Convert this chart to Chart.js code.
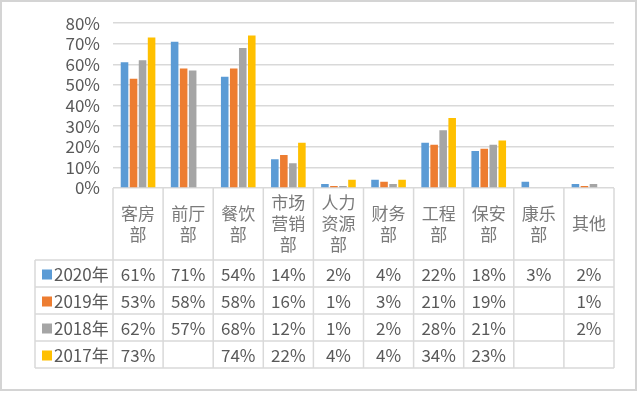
<!DOCTYPE html>
<html>
<head>
<meta charset="utf-8">
<script src="https://cdn.jsdelivr.net/npm/chart.js@4.4.1/dist/chart.umd.min.js"></script>
<style>
  html, body { margin: 0; padding: 0; background: #fff; }
  #wrap { width: 640px; height: 393px; }
</style>
</head>
<body>
<div id="wrap"><canvas id="myChart" width="640" height="393"></canvas></div>
<script>
// departments (wrapped two characters per line in the table)
var categories = ['客房部', '前厅部', '餐饮部', '市场营销部', '人力资源部', '财务部', '工程部', '保安部', '康乐部', '其他'];
var seriesNames = ['2020年', '2019年', '2018年', '2017年'];
var v2020 = [61, 71, 54, 14, 2, 4, 22, 18, 3, 2];
var v2019 = [53, 58, 58, 16, 1, 3, 21, 19, null, 1];
var v2018 = [62, 57, 68, 12, 1, 2, 28, 21, null, 2];
var v2017 = [73, null, 74, 22, 4, 4, 34, 23, null, null];
var yTicks = ['0%', '10%', '20%', '30%', '40%', '50%', '60%', '70%', '80%'];
var colors = ['#5B9BD5', '#ED7D31', '#A5A5A5', '#FFC000'];

var allValues = [v2020, v2019, v2018, v2017];
var gridColor = '#d9d9d9';
var fontCJK = '"Noto Sans CJK SC", "Noto Sans", sans-serif';

// table under the plot: header row with departments + one row per year
var dataTable = {
    id: 'dataTable',
    beforeDraw: function(chart){
        var c = chart.ctx;
        c.save();
        c.fillStyle = '#fff';
        c.fillRect(0, 0, chart.width, chart.height);
        c.strokeStyle = '#d4d4d4';
        c.lineWidth = 2;
        c.strokeRect(1, 1, 635, 389);
        c.restore();
    },
    afterDraw: function(chart){
        var c = chart.ctx;
        var xs = chart.scales.x;
        var area = chart.chartArea;
        var colW = (area.right - area.left) / categories.length;
        var headTop = area.bottom, headBottom = 260, rowH = 27;
        var tableLeft = 35;
        var tableBottom = headBottom + rowH * seriesNames.length;

        c.save();
        c.strokeStyle = gridColor;
        c.lineWidth = 1.5;
        c.beginPath();
        // vertical lines
        for(var i = 0; i <= categories.length; i++){
            var x = area.left + i * colW;
            c.moveTo(x, headTop);
            c.lineTo(x, tableBottom);
        }
        c.moveTo(tableLeft, headBottom);
        c.lineTo(tableLeft, tableBottom);
        // horizontal lines
        for(var r = 0; r <= seriesNames.length; r++){
            var y = headBottom + r * rowH;
            c.moveTo(tableLeft, y);
            c.lineTo(area.right, y);
        }
        c.stroke();

        // department names
        c.fillStyle = '#7a7a7a';
        c.font = '17px ' + fontCJK;
        c.textAlign = 'center';
        c.textBaseline = 'middle';
        var lineH = 21;
        for(var i = 0; i < categories.length; i++){
            var name = categories[i];
            var lines = [];
            for(var k = 0; k < name.length; k += 2) lines.push(name.substr(k, 2));
            var cx = xs.getPixelForValue(i);
            var cy = (headTop + headBottom) / 2 - (lines.length - 1) * lineH / 2;
            for(var l = 0; l < lines.length; l++){
                c.fillText(lines[l], cx, cy + l * lineH);
            }
        }

        // rows
        for(var r = 0; r < seriesNames.length; r++){
            var cy = headBottom + r * rowH + rowH / 2 + 1;
            c.fillStyle = colors[r];
            c.fillRect(42, cy - 5, 10, 10);
            c.fillStyle = '#595959';
            c.font = '17px ' + fontCJK;
            c.textAlign = 'left';
            c.fillText(seriesNames[r], 54, cy);
            c.textAlign = 'center';
            for(var i = 0; i < categories.length; i++){
                var val = allValues[r][i];
                if(val == null) continue;
                c.fillText(val + '%', xs.getPixelForValue(i), cy);
            }
        }
        c.restore();
    }
};

var ctx = document.getElementById('myChart').getContext('2d');
var myChart = new Chart(ctx, {
    type: 'bar',
    data: {
        labels: categories,
        datasets: seriesNames.map(function(name, i){
            return {
                label: name,
                data: allValues[i],
                backgroundColor: colors[i],
                categoryPercentage: 0.72,
                barPercentage: 0.84
            };
        })
    },
    options: {
        responsive: false,
        animation: false,
        layout: { padding: { top: 22, right: 26, bottom: 205, left: 0 } },
        plugins: {
            legend: { display: false },
            tooltip: { enabled: false }
        },
        scales: {
            x: {
                ticks: { display: false },
                grid: { display: false, drawTicks: false },
                border: { display: false }
            },
            y: {
                min: 0,
                max: 80,
                ticks: {
                    stepSize: 10,
                    autoSkip: false,
                    padding: 13,
                    color: '#595959',
                    font: { size: 17, family: fontCJK },
                    callback: function(v){ return yTicks[Math.round(v / 10)]; }
                },
                grid: { color: gridColor, lineWidth: 1.5, drawTicks: false },
                border: { display: false },
                afterFit: function(scale){ scale.width = 113; }
            }
        }
    },
    plugins: [dataTable]
});
</script>
</body>
</html>
